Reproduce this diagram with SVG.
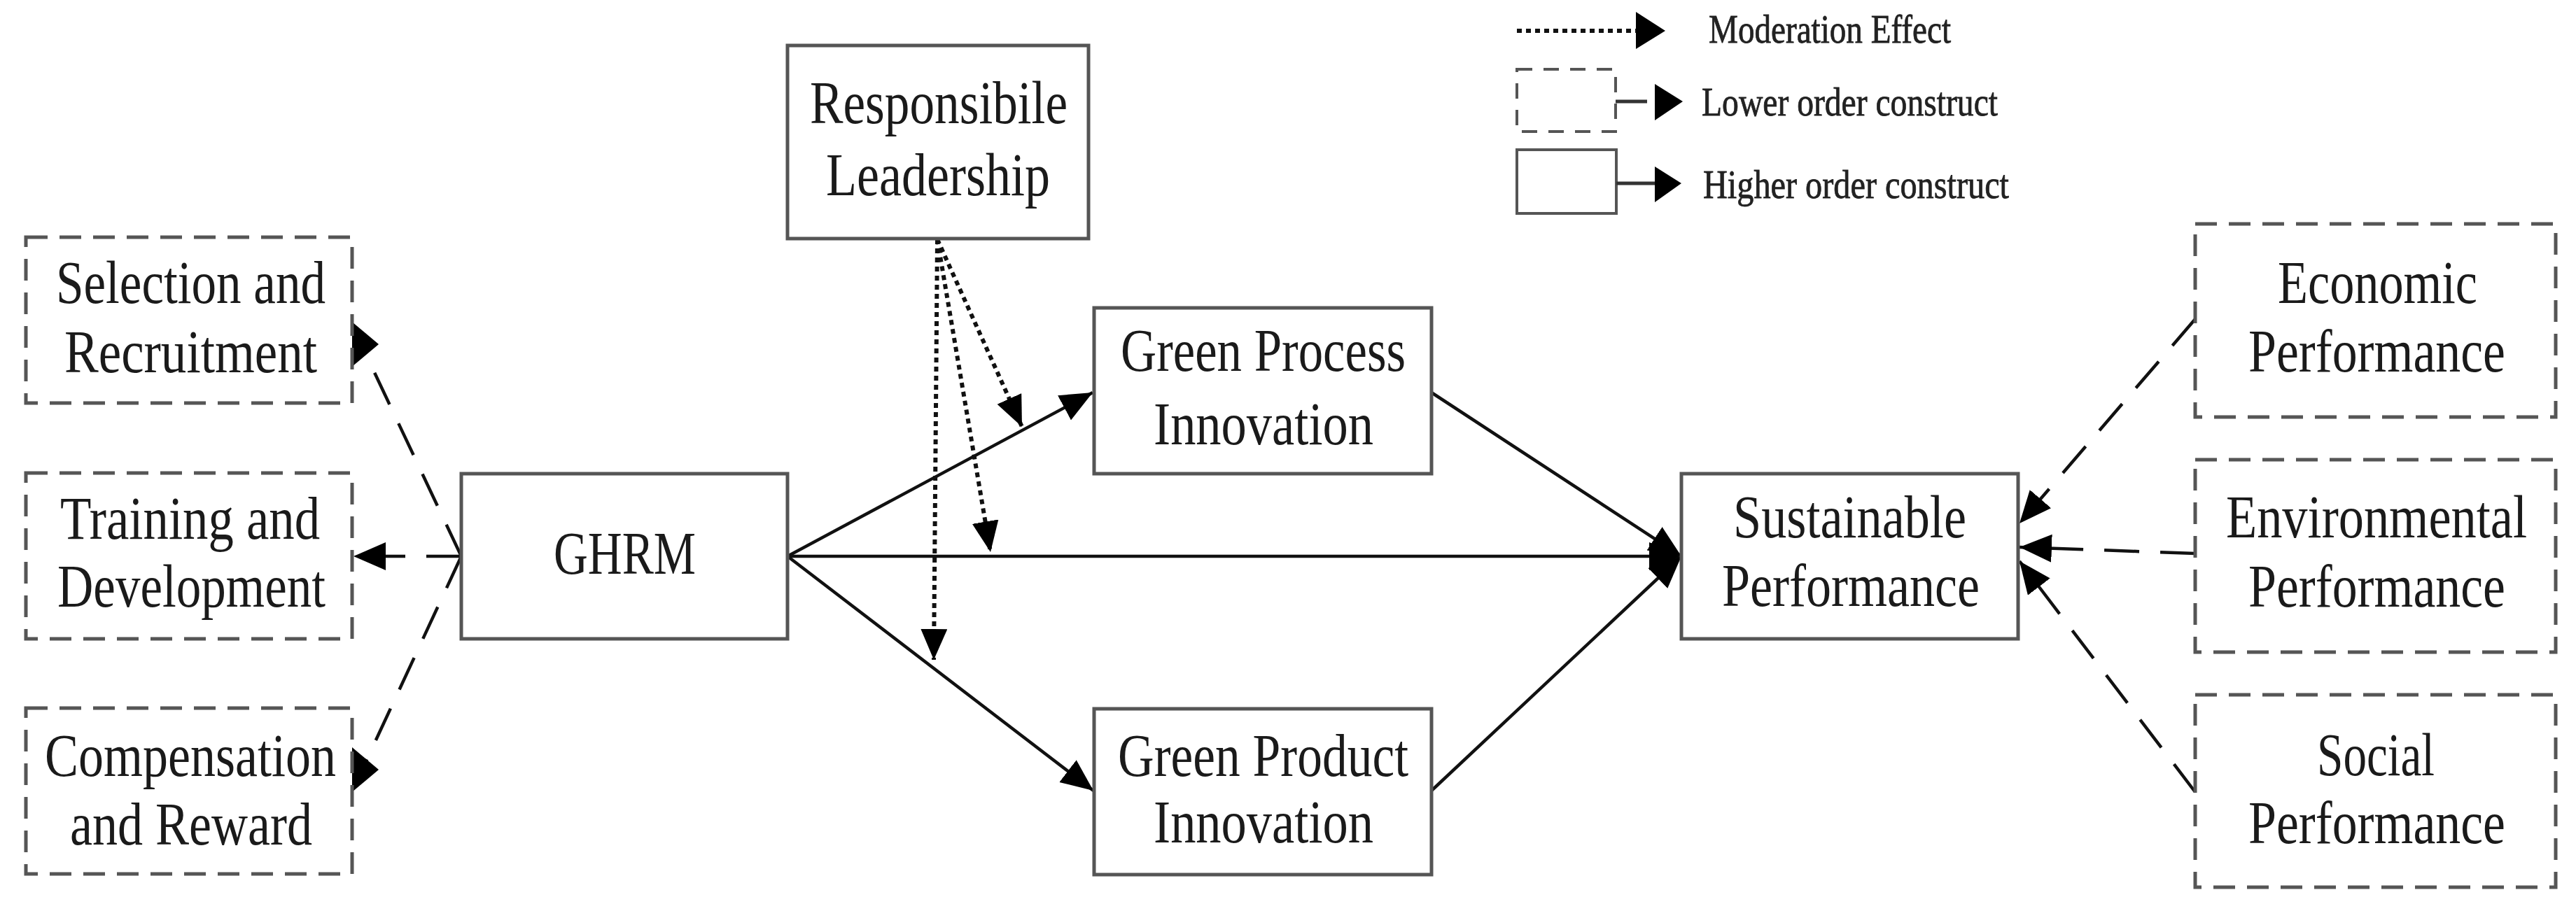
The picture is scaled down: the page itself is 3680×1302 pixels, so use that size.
<svg xmlns="http://www.w3.org/2000/svg" width="3680" height="1302" viewBox="0 0 3680 1302">
<defs>
<style>
.box{fill:#fff;stroke:#555;stroke-width:5}
.dbox{fill:#fff;stroke:#555;stroke-width:5;stroke-dasharray:31 17}
.t{font-family:"Liberation Serif","Times New Roman",serif;font-size:86px;fill:#1a1a1a}
.lg{font-family:"Liberation Serif","Times New Roman",serif;font-size:56px;fill:#222;stroke:#222;stroke-width:0.8}
.solid{stroke:#111;stroke-width:4.5;fill:none}
.dash{stroke:#111;stroke-width:4.5;fill:none;stroke-dasharray:50 30}
.dot{stroke:#111;stroke-width:6;fill:none;stroke-dasharray:7 6}
.head{fill:#000}
</style>
<marker id="ah" markerUnits="userSpaceOnUse" markerWidth="48" markerHeight="42" refX="46" refY="20" orient="auto">
<path d="M0,0 L46,20 L0,40 z" fill="#000"/>
</marker>
<marker id="am" markerUnits="userSpaceOnUse" markerWidth="48" markerHeight="42" refX="44" refY="19" orient="auto">
<path d="M0,0 L44,19 L0,38 z" fill="#000"/>
</marker>
</defs>
<rect width="3680" height="1302" fill="#fff"/>

<g id="connectors">
<line class="solid" x1="1125" y1="795" x2="1561" y2="561" marker-end="url(#ah)"/>
<line class="solid" x1="1125" y1="795" x2="1562" y2="1130" marker-end="url(#ah)"/>
<line class="solid" x1="1125" y1="795" x2="2402" y2="795" marker-end="url(#ah)"/>
<line class="solid" x1="2045" y1="561" x2="2402" y2="795" marker-end="url(#ah)"/>
<line class="solid" x1="2045" y1="1130" x2="2402" y2="795" marker-end="url(#ah)"/>
<line class="dot" x1="1339" y1="342" x2="1460" y2="610" marker-end="url(#am)"/>
<line class="dot" x1="1339" y1="342" x2="1415" y2="789" marker-end="url(#am)"/>
<line class="dot" x1="1339" y1="342" x2="1334" y2="943" marker-end="url(#am)"/>
<line class="dash" x1="659" y1="795" x2="522" y2="505"/>
<polygon class="head" points="503,460 541,492 503,524"/>
<line class="dash" x1="659" y1="795" x2="505" y2="795" marker-end="url(#ah)"/>
<line class="dash" x1="659" y1="795" x2="522" y2="1090"/>
<polygon class="head" points="503,1068 541,1100 503,1132"/>
<line class="dash" x1="3136" y1="456" x2="2885" y2="748" marker-end="url(#ah)"/>
<line class="dash" x1="3136" y1="791" x2="2885" y2="782" marker-end="url(#ah)"/>
<line class="dash" x1="3136" y1="1132" x2="2885" y2="802" marker-end="url(#ah)"/>
</g>

<g id="selection">
<rect class="dbox" x="37" y="339" width="466" height="237"/>
<text class="t" x="80" y="433" textLength="385" lengthAdjust="spacingAndGlyphs">Selection and</text>
<text class="t" x="92" y="532" textLength="361" lengthAdjust="spacingAndGlyphs">Recruitment</text>
</g>
<g id="training">
<rect class="dbox" x="37" y="676" width="466" height="237"/>
<text class="t" x="86" y="770" textLength="371" lengthAdjust="spacingAndGlyphs">Training and</text>
<text class="t" x="82" y="867" textLength="383" lengthAdjust="spacingAndGlyphs">Development</text>
</g>
<g id="compensation">
<rect class="dbox" x="37" y="1012" width="466" height="237"/>
<text class="t" x="64" y="1109" textLength="416" lengthAdjust="spacingAndGlyphs">Compensation</text>
<text class="t" x="100" y="1207" textLength="346" lengthAdjust="spacingAndGlyphs">and Reward</text>
</g>
<g id="ghrm">
<rect class="box" x="659" y="677" width="466" height="236"/>
<text class="t" x="791" y="820" textLength="203" lengthAdjust="spacingAndGlyphs">GHRM</text>
</g>
<g id="leadership">
<rect class="box" x="1125" y="65" width="430" height="276"/>
<text class="t" x="1157" y="176" textLength="368" lengthAdjust="spacingAndGlyphs">Responsibile</text>
<text class="t" x="1180" y="279" textLength="320" lengthAdjust="spacingAndGlyphs">Leadership</text>
</g>
<g id="process">
<rect class="box" x="1563" y="440" width="482" height="237"/>
<text class="t" x="1601" y="530" textLength="407" lengthAdjust="spacingAndGlyphs">Green Process</text>
<text class="t" x="1648" y="635" textLength="314" lengthAdjust="spacingAndGlyphs">Innovation</text>
</g>
<g id="product">
<rect class="box" x="1563" y="1013" width="482" height="237"/>
<text class="t" x="1597" y="1109" textLength="415" lengthAdjust="spacingAndGlyphs">Green Product</text>
<text class="t" x="1648" y="1204" textLength="314" lengthAdjust="spacingAndGlyphs">Innovation</text>
</g>
<g id="sustainable">
<rect class="box" x="2402" y="677" width="481" height="236"/>
<text class="t" x="2476" y="768" textLength="333" lengthAdjust="spacingAndGlyphs">Sustainable</text>
<text class="t" x="2460" y="866" textLength="368" lengthAdjust="spacingAndGlyphs">Performance</text>
</g>
<g id="economic">
<rect class="dbox" x="3136" y="320" width="515" height="276"/>
<text class="t" x="3254" y="433" textLength="285" lengthAdjust="spacingAndGlyphs">Economic</text>
<text class="t" x="3212" y="531" textLength="367" lengthAdjust="spacingAndGlyphs">Performance</text>
</g>
<g id="environmental">
<rect class="dbox" x="3136" y="657" width="515" height="275"/>
<text class="t" x="3180" y="768" textLength="430" lengthAdjust="spacingAndGlyphs">Environmental</text>
<text class="t" x="3212" y="867" textLength="367" lengthAdjust="spacingAndGlyphs">Performance</text>
</g>
<g id="social">
<rect class="dbox" x="3136" y="993" width="515" height="275"/>
<text class="t" x="3310" y="1108" textLength="168" lengthAdjust="spacingAndGlyphs">Social</text>
<text class="t" x="3212" y="1205" textLength="367" lengthAdjust="spacingAndGlyphs">Performance</text>
</g>

<g id="legend">
<line class="dot" x1="2167" y1="44" x2="2337" y2="44"/>
<polygon class="head" points="2337,17 2379,44 2337,70"/>
<text class="lg" x="2441" y="61" textLength="346" lengthAdjust="spacingAndGlyphs">Moderation Effect</text>
<rect x="2167" y="99" width="141" height="89" fill="#fff" stroke="#555" stroke-width="4" stroke-dasharray="22 16"/>
<line x1="2308" y1="145" x2="2353" y2="145" stroke="#333" stroke-width="5"/>
<polygon class="head" points="2364,120 2404,145 2364,172"/>
<text class="lg" x="2431" y="165" textLength="423" lengthAdjust="spacingAndGlyphs">Lower order construct</text>
<rect x="2167" y="214" width="142" height="91" fill="#fff" stroke="#555" stroke-width="4"/>
<line x1="2309" y1="262" x2="2364" y2="262" stroke="#333" stroke-width="5"/>
<polygon class="head" points="2364,238 2402,262 2364,289"/>
<text class="lg" x="2433" y="283" textLength="437" lengthAdjust="spacingAndGlyphs">Higher order construct</text>
</g>
</svg>
